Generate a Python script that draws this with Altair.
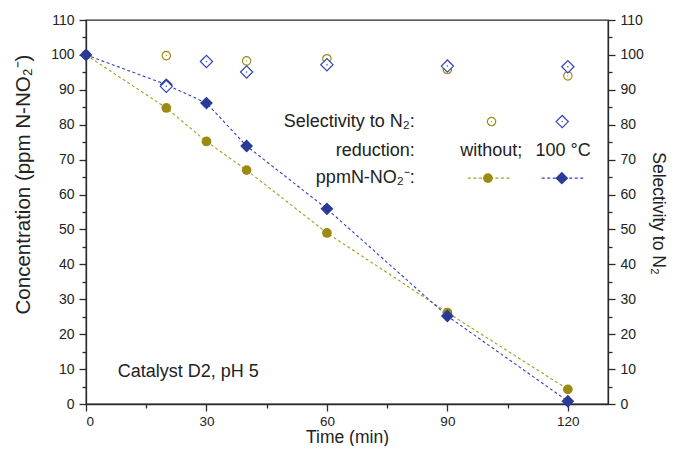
import altair as alt
import pandas as pd

# ---------------- data ----------------
time = [0, 20, 30, 40, 60, 90, 120]
conc_without = [100, 84.8, 75.2, 67.0, 49.0, 26.2, 4.2]
conc_100c = [100, 91.5, 86.2, 73.9, 55.9, 25.2, 0.8]

sel_time_without = [20, 40, 60, 90, 120]
sel_without = [99.8, 98.3, 98.9, 95.8, 94.0]
sel_time_100c = [20, 30, 40, 60, 90, 120]
sel_100c = [91.0, 98.1, 95.1, 97.2, 96.8, 96.6]

x_ticks = [0, 15, 30, 45, 60, 75, 90, 105, 120]
y_ticks = [0, 5, 10, 15, 20, 25, 30, 35, 40, 45, 50, 55, 60, 65, 70, 75, 80, 85, 90, 95, 100, 105, 110]

# in-plot legend (data coordinates)
leg_label_x = 81.9
leg_rows_y = [80.9, 72.5, 64.7]
leg_labels = ["Selectivity to N\u2082:", "reduction:", "ppmN-NO\u2082\u207b:"]
leg_series_labels = ["without;", "100 \u00b0C"]
leg_series_x = [100.9, 118.8]
leg_sym_x = [101.0, 118.6]
leg_line_without = [95.1, 105.6]
leg_line_100c = [113.5, 124.0]
leg_marker_x = [100.1, 118.5]

note_text = "Catalyst D2, pH 5"
note_x, note_y = 7.9, 7.7

OLIVE = "#9a8c12"
OLIVE_L = "#a89c22"
BLUE = "#2b3a97"
BLUE_L = "#3344b8"
AX = "#2a2a2a"
FONT = "Liberation Sans"

# ---------------- scales / axes ----------------
xscale = alt.Scale(domain=[0, 130], nice=False, zero=False)
yscale = alt.Scale(domain=[0, 110], nice=False, zero=False)

common_axis = dict(
    grid=False, domainColor=AX, domainWidth=1.3, tickColor=AX, tickWidth=1.3,
    labelColor="#222", labelFont=FONT,
    titleColor="#222", titleFont=FONT, titleFontWeight="normal",
)

X = alt.X(
    "x:Q", scale=xscale,
    axis=alt.Axis(
        values=x_ticks,
        labelExpr="datum.value % 30 === 0 ? datum.label : ''",
        tickSize={"condition": {"test": "datum.value % 30 === 0", "value": 7}, "value": 4},
        labelPadding=3, labelFontSize=13.5,
        title="Time (min)", titleX=261, titleY=38.5, titleAlign="center",
        titleBaseline="alphabetic", titleAngle=0, titleFontSize=17.5,
        **common_axis,
    ),
)

YL = alt.Y(
    "y:Q", scale=yscale,
    axis=alt.Axis(
        orient="left", values=y_ticks,
        labelExpr="datum.value % 10 === 0 ? datum.label : ''",
        tickSize={"condition": {"test": "datum.value % 10 === 0", "value": 7}, "value": 4},
        labelPadding=5, labelFontSize=14,
        title="Concentration (ppm N-NO\u2082\u207b)", titleX=-63, titleY=164,
        titleAngle=270, titleAlign="center", titleBaseline="middle", titleFontSize=20.5,
        **common_axis,
    ),
)

YR = alt.Y(
    "y:Q", scale=yscale,
    axis=alt.Axis(
        orient="right", values=y_ticks,
        labelExpr="datum.value % 10 === 0 ? datum.label : ''",
        tickSize={"condition": {"test": "datum.value % 10 === 0", "value": 7}, "value": 4},
        labelPadding=5, labelFontSize=14,
        title="Selectivity to N\u2082", titleX=49, titleY=193,
        titleAngle=90, titleAlign="center", titleBaseline="middle", titleFontSize=17.5,
        **common_axis,
    ),
)

# ---------------- data frames ----------------
df_wo = pd.DataFrame({"x": time, "y": conc_without})
df_100 = pd.DataFrame({"x": time, "y": conc_100c})
df_sel_wo = pd.DataFrame({"x": sel_time_without, "y": sel_without})
df_sel_100 = pd.DataFrame({"x": sel_time_100c, "y": sel_100c})


def dash_line(df, color):
    return alt.Chart(df).mark_line(color=color, strokeDash=[3, 2.5], strokeWidth=1.1).encode(x=X, y=YL)


def filled_pts(df, shape, size, color, y=None):
    return alt.Chart(df).mark_point(shape=shape, filled=True, size=size, color=color, opacity=1).encode(x=X, y=y or YL)


def hollow_pts(df, shape, size, color, y):
    ring = alt.Chart(df).mark_point(shape=shape, filled=True, fill="white", stroke=color,
                                    strokeWidth=1.2, size=size, opacity=1).encode(x=X, y=y)
    dot = alt.Chart(df).mark_point(shape="circle", filled=True, size=2, color=color, opacity=1).encode(x=X, y=y)
    return ring + dot


# legend pieces
leg_text_df = pd.DataFrame({"x": [leg_label_x] * 3, "y": leg_rows_y, "t": leg_labels})
leg_series_df = pd.DataFrame({"x": leg_series_x, "y": [leg_rows_y[1]] * 2, "t": leg_series_labels})
leg_sym_wo = pd.DataFrame({"x": [leg_sym_x[0]], "y": [leg_rows_y[0]]})
leg_sym_100 = pd.DataFrame({"x": [leg_sym_x[1]], "y": [leg_rows_y[0]]})
leg_line_wo_df = pd.DataFrame({"x": leg_line_without, "y": [leg_rows_y[2]] * 2})
leg_line_100_df = pd.DataFrame({"x": leg_line_100c, "y": [leg_rows_y[2]] * 2})
leg_mk_wo = pd.DataFrame({"x": [leg_marker_x[0]], "y": [leg_rows_y[2]]})
leg_mk_100 = pd.DataFrame({"x": [leg_marker_x[1]], "y": [leg_rows_y[2]]})
note_df = pd.DataFrame({"x": [note_x], "y": [note_y], "t": [note_text]})

leg_labels_mark = alt.Chart(leg_text_df).mark_text(
    align="right", baseline="middle", fontSize=18, font=FONT, color="#222"
).encode(x=X, y=YL, text="t:N")
leg_series_mark = alt.Chart(leg_series_df).mark_text(
    align="center", baseline="middle", fontSize=18, font=FONT, color="#222"
).encode(x=X, y=YL, text="t:N")
note_mark = alt.Chart(note_df).mark_text(
    align="left", baseline="alphabetic", fontSize=18, font=FONT, color="#222"
).encode(x=X, y=YL, text="t:N")

left = alt.layer(
    dash_line(df_wo, OLIVE_L),
    dash_line(df_100, BLUE_L),
    filled_pts(df_wo, "circle", 95, OLIVE),
    filled_pts(df_100, "diamond", 165, BLUE),
    leg_labels_mark,
    leg_series_mark,
    note_mark,
    hollow_pts(leg_sym_wo, "circle", 70, OLIVE, YL),
    hollow_pts(leg_sym_100, "diamond", 150, BLUE_L, YL),
    dash_line(leg_line_wo_df, OLIVE_L),
    dash_line(leg_line_100_df, BLUE_L),
    filled_pts(leg_mk_wo, "circle", 95, OLIVE),
    filled_pts(leg_mk_100, "diamond", 165, BLUE),
)

right = alt.layer(
    hollow_pts(df_sel_wo, "circle", 70, OLIVE, YR),
    hollow_pts(df_sel_100, "diamond", 150, BLUE_L, YR),
)

chart = (
    alt.layer(left, right)
    .resolve_scale(y="independent")
    .properties(
        width=522, height=384, autosize="none",
        padding={"left": 78, "top": 12, "right": 60, "bottom": 42},
        background="white",
    )
    .configure(font=FONT)
    .configure_view(stroke=AX, strokeWidth=1.3)
)

chart.save("out.html", embed_options={"renderer": "svg", "actions": False})
